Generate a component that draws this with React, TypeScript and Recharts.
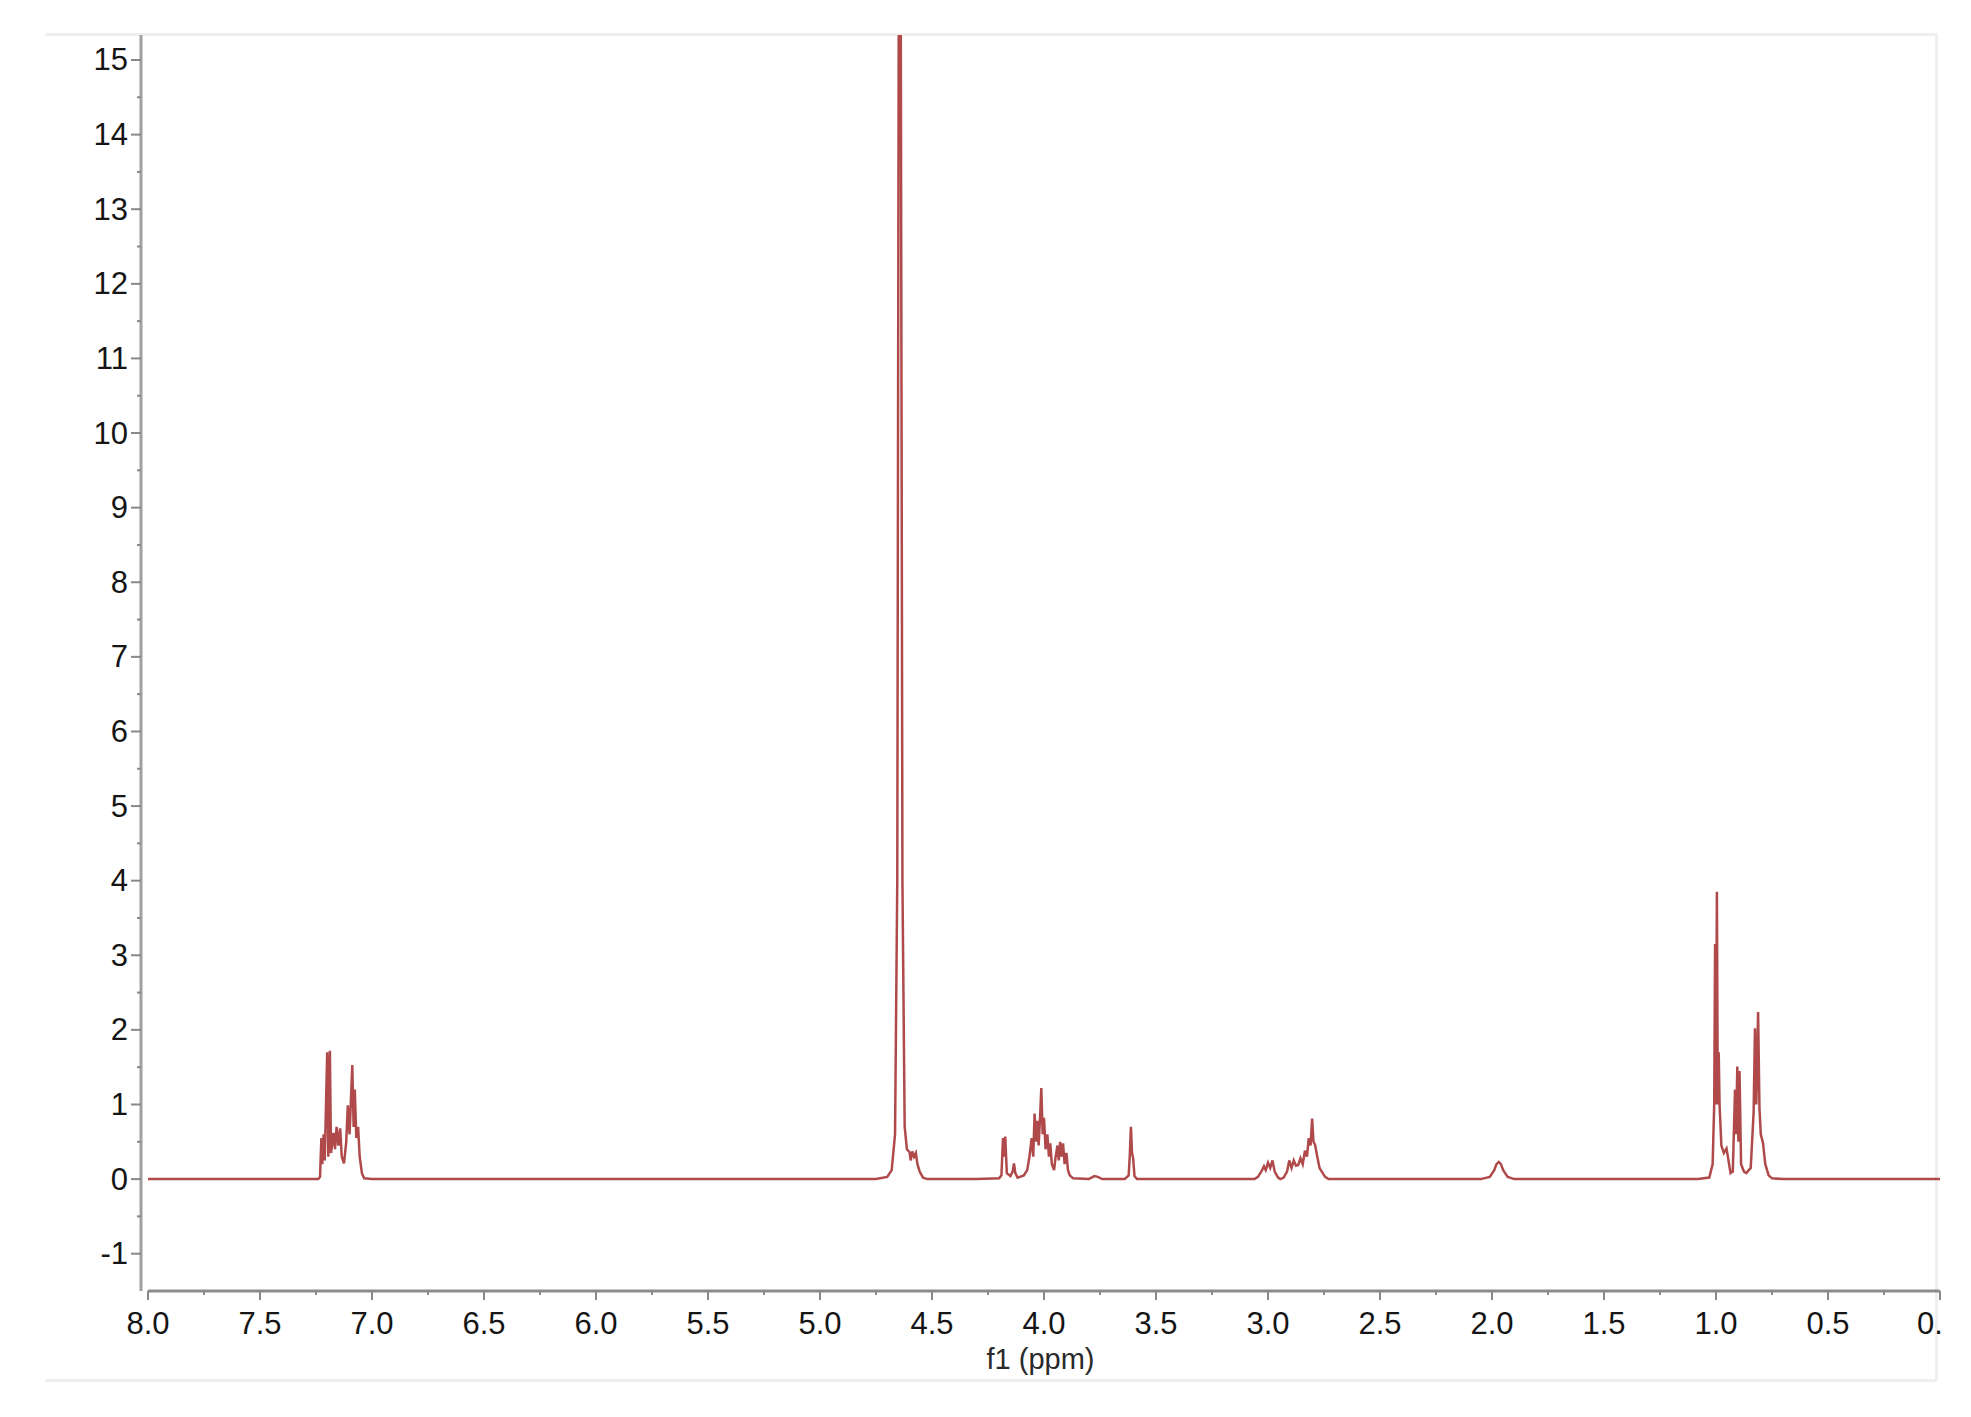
import React from "react";
import { LineChart, Line, XAxis, YAxis, ReferenceLine } from "recharts";

// 1H NMR spectrum: [ppm, intensity]
const baselineLeft: [number, number][] = [
  [8.0, 0],
  [7.26, 0],
];

const aromatic: [number, number][] = [
  [7.24, 0.0],
  [7.232, 0.03],
  [7.226, 0.55],
  [7.222, 0.2],
  [7.216, 0.6],
  [7.211, 0.25],
  [7.2, 1.7],
  [7.195, 0.3],
  [7.188, 1.72],
  [7.183, 0.35],
  [7.172, 0.62],
  [7.165, 0.4],
  [7.158, 0.7],
  [7.15, 0.45],
  [7.142, 0.68],
  [7.135, 0.3],
  [7.125, 0.21],
  [7.115, 0.5],
  [7.108, 0.99],
  [7.1, 0.6],
  [7.088, 1.53],
  [7.082, 0.7],
  [7.077, 1.2],
  [7.07, 0.55],
  [7.062, 0.7],
  [7.055, 0.3],
  [7.045, 0.08],
  [7.035, 0.01],
  [7.0, 0],
];

const water: [number, number][] = [
  [4.75, 0],
  [4.7, 0.03],
  [4.68, 0.12],
  [4.665, 0.6],
  [4.655, 4],
  [4.648, 16.5],
  [4.64, 16.5],
  [4.632, 4],
  [4.622, 0.7],
  [4.612, 0.4],
  [4.6, 0.36],
  [4.595, 0.25],
  [4.588, 0.37],
  [4.58, 0.3],
  [4.572, 0.35],
  [4.565, 0.2],
  [4.555, 0.1],
  [4.54, 0.02],
  [4.52, 0],
];

const region4: [number, number][] = [
  [4.3, 0],
  [4.2, 0.01],
  [4.19, 0.05],
  [4.183, 0.55],
  [4.178, 0.3],
  [4.173, 0.57],
  [4.166, 0.08],
  [4.15, 0.04],
  [4.14, 0.1],
  [4.134, 0.21],
  [4.128, 0.08],
  [4.118, 0.02],
  [4.09, 0.05],
  [4.075, 0.12],
  [4.065, 0.3],
  [4.055, 0.55],
  [4.048, 0.3],
  [4.042, 0.88],
  [4.036, 0.5],
  [4.03, 0.78],
  [4.024, 0.45],
  [4.018, 0.8],
  [4.012, 1.22],
  [4.006, 0.6],
  [4.0, 0.82],
  [3.993, 0.4],
  [3.985, 0.6],
  [3.978, 0.3],
  [3.972, 0.48],
  [3.965, 0.2],
  [3.955, 0.12],
  [3.948, 0.3],
  [3.94, 0.45],
  [3.934, 0.25],
  [3.928, 0.5],
  [3.922, 0.3],
  [3.915, 0.48],
  [3.908, 0.2],
  [3.9, 0.35],
  [3.893, 0.12],
  [3.885, 0.05],
  [3.87, 0.01],
  [3.8, 0],
  [3.775, 0.04],
  [3.76, 0.03],
  [3.74, 0],
  [3.64, 0],
  [3.622, 0.05],
  [3.617, 0.32],
  [3.612, 0.7],
  [3.607, 0.35],
  [3.602, 0.28],
  [3.596, 0.04],
  [3.585, 0],
];

const region3: [number, number][] = [
  [3.06, 0],
  [3.045, 0.03],
  [3.03, 0.1],
  [3.018, 0.17],
  [3.01, 0.12],
  [3.0, 0.22],
  [2.99, 0.15],
  [2.98, 0.25],
  [2.97, 0.1],
  [2.955, 0.02],
  [2.945, 0],
  [2.93, 0.02],
  [2.915, 0.1],
  [2.905, 0.25],
  [2.895, 0.15],
  [2.885, 0.25],
  [2.875, 0.18],
  [2.865, 0.19],
  [2.855, 0.28],
  [2.845, 0.2],
  [2.835, 0.38],
  [2.826, 0.3],
  [2.818, 0.55],
  [2.81, 0.45],
  [2.803, 0.81],
  [2.797, 0.5],
  [2.79, 0.46],
  [2.78, 0.3],
  [2.77, 0.15],
  [2.76, 0.1],
  [2.745, 0.03],
  [2.73, 0],
];

const region2: [number, number][] = [
  [2.05, 0],
  [2.01, 0.03],
  [1.99, 0.12],
  [1.98, 0.2],
  [1.97, 0.23],
  [1.96, 0.2],
  [1.95, 0.12],
  [1.93, 0.03],
  [1.9, 0],
];

const aliphatic: [number, number][] = [
  [1.08, 0],
  [1.03, 0.02],
  [1.015, 0.2],
  [1.008, 1.0],
  [1.004, 3.15],
  [1.0, 1.0],
  [0.996, 3.85],
  [0.992, 1.0],
  [0.988, 1.7],
  [0.984, 0.99],
  [0.976, 0.45],
  [0.965, 0.35],
  [0.953, 0.41],
  [0.935, 0.08],
  [0.925, 0.1],
  [0.915, 1.2],
  [0.91, 0.6],
  [0.905, 1.51],
  [0.9, 0.5],
  [0.895, 1.45],
  [0.888, 0.2],
  [0.875, 0.1],
  [0.865, 0.08],
  [0.845, 0.15],
  [0.832, 0.9],
  [0.826, 2.02],
  [0.82, 1.0],
  [0.812, 2.24],
  [0.806, 0.95],
  [0.8, 0.6],
  [0.79, 0.48],
  [0.78, 0.2],
  [0.765, 0.05],
  [0.75, 0.01],
  [0.7, 0],
  [0.0, 0],
];

const yMajorTicks = [-1, 0, 1, 2, 3, 4, 5, 6, 7, 8, 9, 10, 11, 12, 13, 14, 15];
const yMinorTicks = [-0.5, 0.5, 1.5, 2.5, 3.5, 4.5, 5.5, 6.5, 7.5, 8.5, 9.5, 10.5, 11.5, 12.5, 13.5, 14.5];
const xMajorTicks = [8, 7.5, 7, 6.5, 6, 5.5, 5, 4.5, 4, 3.5, 3, 2.5, 2, 1.5, 1, 0.5, 0];
const xMinorTicks = [7.75, 7.25, 6.75, 6.25, 5.75, 5.25, 4.75, 4.25, 3.75, 3.25, 2.75, 2.25, 1.75, 1.25, 0.75, 0.25];
// the last label is cropped at the figure's right edge in the source
const xLabelOverrides: Record<string, string> = { "0": "0." };

const Y_MIN = -1.5;
const Y_MAX = 15.335;

const spectrum = [
  ...baselineLeft,
  ...aromatic,
  ...water,
  ...region4,
  ...region3,
  ...region2,
  ...aliphatic,
].map(([ppm, intensity]) => ({ ppm, intensity }));

const FONT = '"Liberation Sans", Arial, sans-serif';
const LINE_COLOR = "#b04a4a";

const renderYTick = (props: any) => {
  const { x, y, payload } = props;
  const major = yMajorTicks.includes(payload.value);
  return (
    <g key={`yt-${payload.value}`}>
      <line x1={x} x2={x - (major ? 10 : 4)} y1={y} y2={y} stroke="#888" strokeWidth={2} />
      {major && (
        <text
          x={x - 13}
          y={y}
          textAnchor="end"
          dominantBaseline="central"
          fontFamily={FONT}
          fontSize={31}
          fill="#151515"
        >
          {payload.value}
        </text>
      )}
    </g>
  );
};

const renderXTick = (props: any) => {
  const { x, y, payload } = props;
  const major = xMajorTicks.includes(payload.value);
  const override = xLabelOverrides[String(payload.value)];
  return (
    <g key={`xt-${payload.value}`}>
      <line x1={x} x2={x} y1={y} y2={y + (major ? 9 : 4)} stroke="#888" strokeWidth={2} />
      {major && (
        <text
          x={override ? x - 23 : x}
          y={y + 43}
          textAnchor={override ? "start" : "middle"}
          fontFamily={FONT}
          fontSize={31}
          fill="#151515"
        >
          {override ?? Number(payload.value).toFixed(1)}
        </text>
      )}
    </g>
  );
};

export default function App() {
  return (
    <div style={{ position: "absolute", left: 0, top: 0, width: 1971, height: 1417, background: "#fff" }}>
      {/* faint frame from the scanned figure */}
      <div style={{ position: "absolute", left: 45, top: 33, width: 1891, borderTop: "3px solid #efefef" }} />
      <div style={{ position: "absolute", left: 1935, top: 33, height: 1348, borderLeft: "3px solid #efefef" }} />
      <div style={{ position: "absolute", left: 45, top: 1379, width: 1891, borderTop: "3px solid #efefef" }} />
      <div style={{ position: "absolute", left: 0, top: 0, width: 1950, height: 1417, overflow: "hidden" }}>
        <LineChart
          width={1990}
          height={1417}
          data={spectrum}
          margin={{ top: 35, right: 50, bottom: 125, left: 140 }}
        >
          <XAxis
            dataKey="ppm"
            type="number"
            domain={[0, 8]}
            reversed
            allowDataOverflow
            ticks={[...xMajorTicks, ...xMinorTicks]}
            interval={0}
            tick={renderXTick}
            tickLine={false}
            tickSize={0}
            tickMargin={0}
            axisLine={false}
            height={1}
            padding={{ left: 7, right: 0 }}
            label={{
              value: "f1 (ppm)",
              position: "bottom",
              offset: 56,
              style: { fontFamily: FONT, fontSize: 29, fill: "#2a2a2a" },
            }}
          />
          <YAxis
            type="number"
            domain={[Y_MIN, Y_MAX]}
            allowDataOverflow
            ticks={[...yMajorTicks, ...yMinorTicks]}
            interval={0}
            tick={renderYTick}
            tickLine={false}
            tickSize={0}
            tickMargin={0}
            width={1}
            axisLine={{ stroke: "#a0a0a0", strokeWidth: 3 }}
          />
          <ReferenceLine
            segment={[
              { x: 8, y: Y_MIN },
              { x: 0, y: Y_MIN },
            ]}
            stroke="#8c8c8c"
            strokeWidth={3}
            ifOverflow="visible"
          />
          <Line
            type="linear"
            dataKey="intensity"
            stroke={LINE_COLOR}
            strokeWidth={2.5}
            dot={false}
            isAnimationActive={false}
          />
        </LineChart>
      </div>
    </div>
  );
}
